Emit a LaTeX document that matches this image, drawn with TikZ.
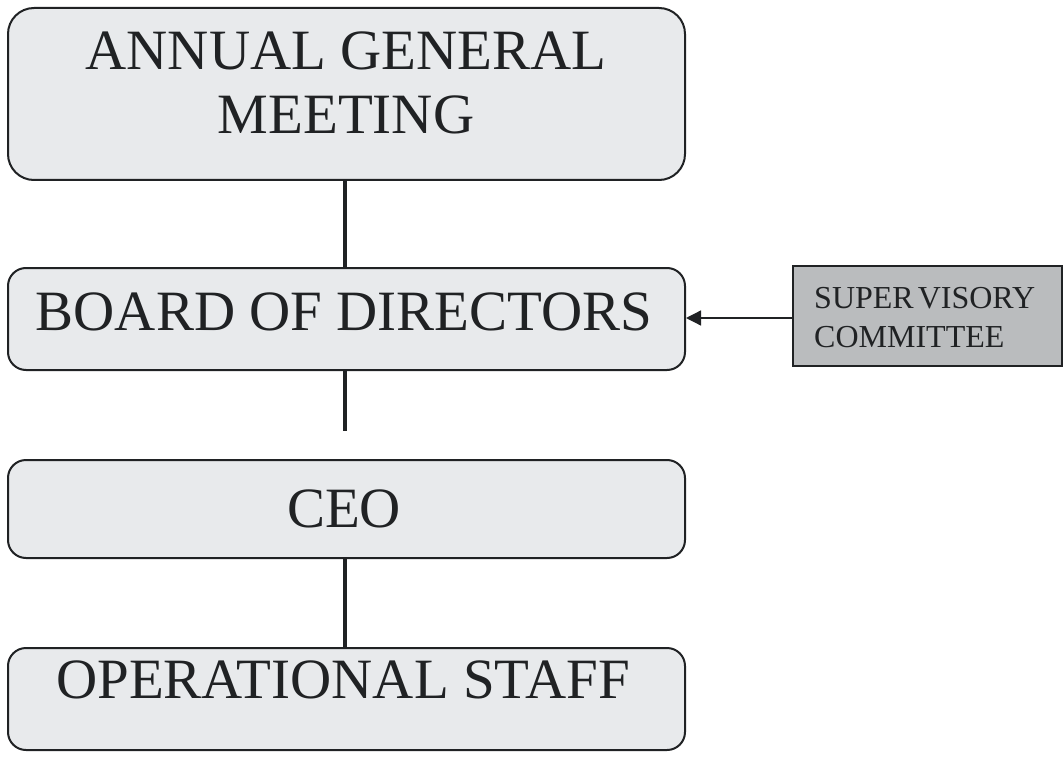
\documentclass[tikz,border=0pt]{standalone}
\usepackage{fontspec}
\setmainfont{Liberation Serif}
\usetikzlibrary{arrows.meta}
\definecolor{boxfill}{RGB}{232,234,236}
\definecolor{supfill}{RGB}{186,188,190}
\definecolor{ink}{RGB}{32,34,36}
\begin{document}
\begin{tikzpicture}[x=1pt,y=-1pt,
  mainbox/.style={draw=ink,line width=2pt,fill=boxfill,rounded corners=18pt,minimum width=677pt,inner sep=0pt},
  supbox/.style={draw=ink,line width=1.5pt,fill=supfill,minimum width=269pt,minimum height=100pt,inner sep=0pt},
  bigtext/.style={font=\fontsize{57}{64}\selectfont,text=ink,anchor=base,inner sep=0pt},
  smalltext/.style={font=\fontsize{32}{39}\selectfont,text=ink,anchor=base west,inner sep=0pt},
  vline/.style={draw=ink,line width=3.5pt},
  arr/.style={draw=ink,line width=1.3pt,-{Triangle[length=15pt,width=15pt]}}]
\useasboundingbox (0,0) rectangle (1064,759);
\node[mainbox,minimum height=172pt,rounded corners=26pt] (agm) at (346.5,94) {};
\node[mainbox,minimum height=102pt] (board) at (346.5,319) {};
\node[mainbox,minimum height=98pt] (ceo) at (346.5,509) {};
\node[mainbox,minimum height=102pt] (ops) at (346.5,699) {};
\node[supbox] (sup) at (927.5,316) {};
\node[bigtext] (t1) at (346,70) {ANNUAL GENERAL};
\node[bigtext] (t2) at (346,134) {MEETING};
\node[bigtext] (t3) at (344,330) {BOARD OF DIRECTORS};
\node[bigtext] (t4) at (344,527) {CEO};
\node[bigtext] (t5) at (343,698) {OPERATIONAL STAFF};
\node[smalltext] (t6) at (814,308) {SUPER\kern4pt VISORY};
\node[smalltext] (t7) at (814,347) {COMMITTEE};
\coordinate (bend) at (345,431);
\draw[vline] (agm.south -| bend) -- (board.north -| bend);
\draw[vline] (board.south -| bend) -- (bend);
\draw[vline] (ceo.south -| bend) -- (ops.north -| bend);
\draw[arr] (sup.west |- 0,318) -- (board.east |- 0,318);
\end{tikzpicture}
\end{document}
